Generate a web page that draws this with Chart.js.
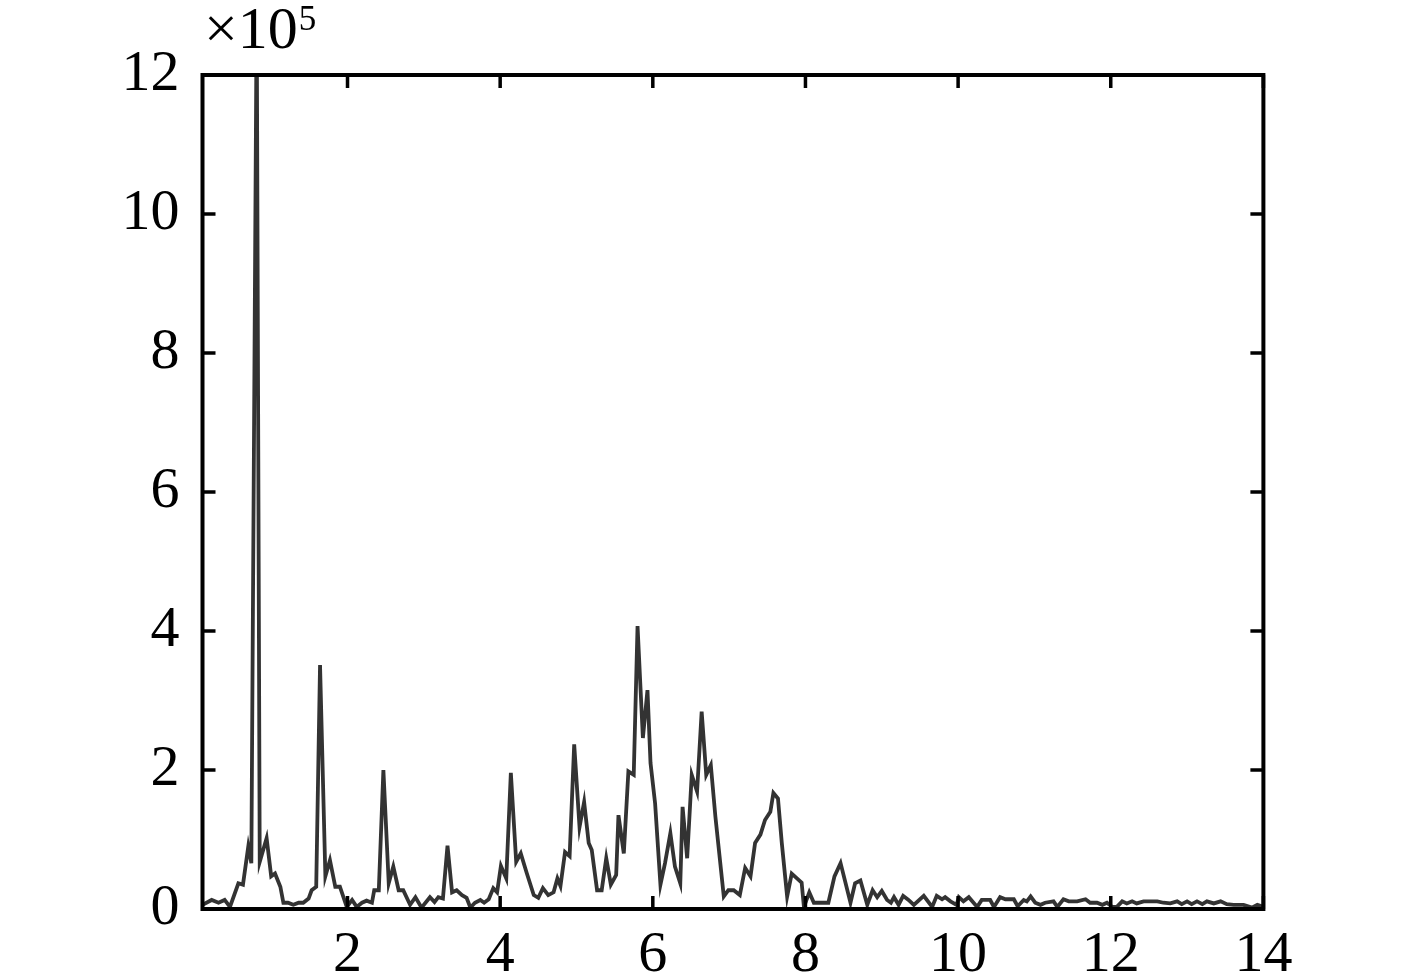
<!DOCTYPE html>
<html>
<head>
<meta charset="utf-8">
<script src="https://cdn.jsdelivr.net/npm/chart.js@4/dist/chart.umd.min.js"></script>
<style>
  html, body { margin: 0; padding: 0; background: #ffffff; }
  #wrap { position: relative; width: 1417px; height: 980px; }
</style>
</head>
<body>
<div id="wrap"><canvas id="c" width="1417" height="980"></canvas></div>
<script>
// Frequency (x) of each sample
const freq = [
  0.10, 0.22, 0.31, 0.39, 0.46, 0.57, 0.63, 0.70, 0.74, 0.81, 0.85, 0.94, 1.00, 1.05, 1.12,
  1.16, 1.22, 1.29, 1.36, 1.42, 1.49, 1.53, 1.59, 1.64, 1.71, 1.77, 1.84, 1.90, 1.99, 2.06,
  2.12, 2.19, 2.25, 2.32, 2.35, 2.41, 2.47, 2.54, 2.60, 2.67, 2.73, 2.82, 2.89, 2.97, 3.08,
  3.14, 3.19, 3.25, 3.31, 3.37, 3.43, 3.50, 3.56, 3.61, 3.67, 3.74, 3.79, 3.85, 3.91, 3.96,
  4.01, 4.08, 4.14, 4.21, 4.27, 4.35, 4.44, 4.50, 4.56, 4.63, 4.70, 4.75, 4.79, 4.85, 4.91,
  4.97, 5.04, 5.10, 5.16, 5.20, 5.27, 5.33, 5.39, 5.45, 5.52, 5.55, 5.62, 5.68, 5.75, 5.80,
  5.87, 5.93, 5.97, 6.03, 6.10, 6.16, 6.23, 6.29, 6.36, 6.39, 6.45, 6.51, 6.58, 6.64, 6.70,
  6.76, 6.82, 6.93, 6.99, 7.06, 7.14, 7.21, 7.28, 7.34, 7.41, 7.47, 7.54, 7.58, 7.64, 7.69,
  7.76, 7.82, 7.95, 7.98, 8.05, 8.11, 8.30, 8.38, 8.46, 8.59, 8.65, 8.72, 8.81, 8.88, 8.94,
  9.00, 9.07, 9.12, 9.16, 9.22, 9.28, 9.35, 9.42, 9.55, 9.66, 9.72, 9.79, 9.83, 9.90, 9.98,
  10.01, 10.07, 10.14, 10.25, 10.31, 10.42, 10.47, 10.55, 10.62, 10.73, 10.78, 10.86, 10.90, 10.95, 11.01,
  11.08, 11.14, 11.25, 11.30, 11.38, 11.45, 11.56, 11.67, 11.73, 11.82, 11.89, 11.95, 12.02, 12.08, 12.15,
  12.21, 12.28, 12.34, 12.43, 12.52, 12.61, 12.69, 12.78, 12.87, 12.93, 13.00, 13.06, 13.13, 13.20, 13.26,
  13.35, 13.44, 13.52, 13.61, 13.74, 13.85, 13.92, 14.00
];
// Amplitude (units of 10^5) of each sample
const amp = [
  0.06, 0.13, 0.09, 0.13, 0.03, 0.37, 0.35, 0.90, 0.66, 13.0, 0.68, 1.02, 0.47, 0.51, 0.32,
  0.09, 0.09, 0.06, 0.09, 0.09, 0.15, 0.27, 0.32, 3.51, 0.47, 0.70, 0.32, 0.32, 0.03, 0.13,
  0.03, 0.09, 0.12, 0.09, 0.27, 0.27, 2.00, 0.37, 0.61, 0.27, 0.27, 0.06, 0.17, 0.02, 0.17,
  0.10, 0.17, 0.15, 0.91, 0.24, 0.27, 0.20, 0.16, 0.02, 0.09, 0.13, 0.09, 0.14, 0.30, 0.24,
  0.62, 0.44, 1.96, 0.68, 0.80, 0.51, 0.20, 0.16, 0.30, 0.20, 0.24, 0.44, 0.33, 0.82, 0.76,
  2.37, 1.18, 1.54, 0.95, 0.85, 0.27, 0.27, 0.73, 0.35, 0.49, 1.35, 0.80, 1.98, 1.93, 4.07,
  2.46, 3.15, 2.10, 1.52, 0.35, 0.66, 1.09, 0.61, 0.37, 1.47, 0.73, 1.93, 1.69, 2.84, 1.93,
  2.07, 1.33, 0.18, 0.27, 0.27, 0.20, 0.59, 0.47, 0.95, 1.07, 1.28, 1.40, 1.67, 1.59, 0.95,
  0.18, 0.51, 0.38, 0.03, 0.24, 0.09, 0.09, 0.47, 0.66, 0.09, 0.37, 0.41, 0.06, 0.27, 0.17,
  0.26, 0.13, 0.09, 0.17, 0.06, 0.19, 0.13, 0.06, 0.19, 0.03, 0.19, 0.14, 0.17, 0.11, 0.06,
  0.17, 0.11, 0.17, 0.03, 0.13, 0.13, 0.03, 0.17, 0.14, 0.14, 0.04, 0.13, 0.11, 0.18, 0.09,
  0.06, 0.09, 0.11, 0.03, 0.14, 0.11, 0.11, 0.14, 0.09, 0.09, 0.06, 0.09, 0.03, 0.03, 0.11,
  0.08, 0.11, 0.08, 0.11, 0.11, 0.11, 0.09, 0.08, 0.11, 0.07, 0.11, 0.07, 0.11, 0.07, 0.11,
  0.08, 0.11, 0.07, 0.06, 0.06, 0.02, 0.06, 0.03
];
const xTicks = [2, 4, 6, 8, 10, 12, 14];
const yTicks = [0, 2, 4, 6, 8, 10, 12];
const xRange = [0.1, 14];
const yRange = [0, 12];
const exponentBase = '\u00d710';
const exponentPower = '5';

const FONT = "'Liberation Serif', 'Times New Roman', serif";

const framePlugin = {
  id: 'frame',
  afterDraw(chart) {
    const { ctx, chartArea: a, scales } = chart;
    const xs = scales.x, ys = scales.y;
    ctx.save();
    ctx.strokeStyle = '#000';
    ctx.lineCap = 'butt';
    // ticks (inward, on all four sides)
    ctx.lineWidth = 3.5;
    const tl = 13;
    ctx.beginPath();
    xTicks.forEach(v => {
      const p = xs.getPixelForValue(v);
      ctx.moveTo(p, a.bottom); ctx.lineTo(p, a.bottom - tl);
      ctx.moveTo(p, a.top); ctx.lineTo(p, a.top + tl);
    });
    yTicks.forEach(v => {
      const p = ys.getPixelForValue(v);
      ctx.moveTo(a.left, p); ctx.lineTo(a.left + tl, p);
      ctx.moveTo(a.right, p); ctx.lineTo(a.right - tl, p);
    });
    ctx.stroke();
    // frame
    ctx.lineWidth = 4;
    ctx.strokeRect(a.left, a.top, a.right - a.left, a.bottom - a.top);
    // exponent label
    ctx.fillStyle = '#000';
    ctx.textBaseline = 'alphabetic';
    ctx.textAlign = 'left';
    ctx.font = '60px ' + FONT;
    ctx.fillText(exponentBase, 204, 48);
    const w = ctx.measureText(exponentBase).width;
    ctx.font = '35px ' + FONT;
    ctx.fillText(exponentPower, 204 + w + 1, 30);
    ctx.restore();
  }
};

new Chart(document.getElementById('c'), {
  type: 'line',
  data: {
    datasets: [{
      data: freq.map((f, i) => ({ x: f, y: amp[i] })),
      borderColor: '#333333',
      borderWidth: 3.8,
      pointRadius: 0,
      tension: 0,
      fill: false,
      clip: 0
    }]
  },
  options: {
    responsive: false,
    animation: false,
    devicePixelRatio: 1,
    layout: { padding: { top: 75, right: 153.6, left: 0, bottom: 0 } },
    plugins: { legend: { display: false }, tooltip: { enabled: false } },
    scales: {
      x: {
        type: 'linear',
        min: xRange[0], max: xRange[1],
        grid: { display: false, drawTicks: false },
        border: { display: false },
        afterBuildTicks: s => { s.ticks = xTicks.map(v => ({ value: v })); },
        afterFit: s => { s.height = 71; },
        ticks: {
          color: '#000', padding: 12, maxRotation: 0, autoSkip: false,
          font: { family: FONT, size: 58 }
        }
      },
      y: {
        type: 'linear',
        min: yRange[0], max: yRange[1],
        grid: { display: false, drawTicks: false },
        border: { display: false },
        afterBuildTicks: s => { s.ticks = yTicks.map(v => ({ value: v })); },
        afterFit: s => { s.width = 202.5; },
        ticks: {
          color: '#000', padding: 23, autoSkip: false,
          font: { family: FONT, size: 58 }
        }
      }
    }
  },
  plugins: [framePlugin]
});
</script>
</body>
</html>
